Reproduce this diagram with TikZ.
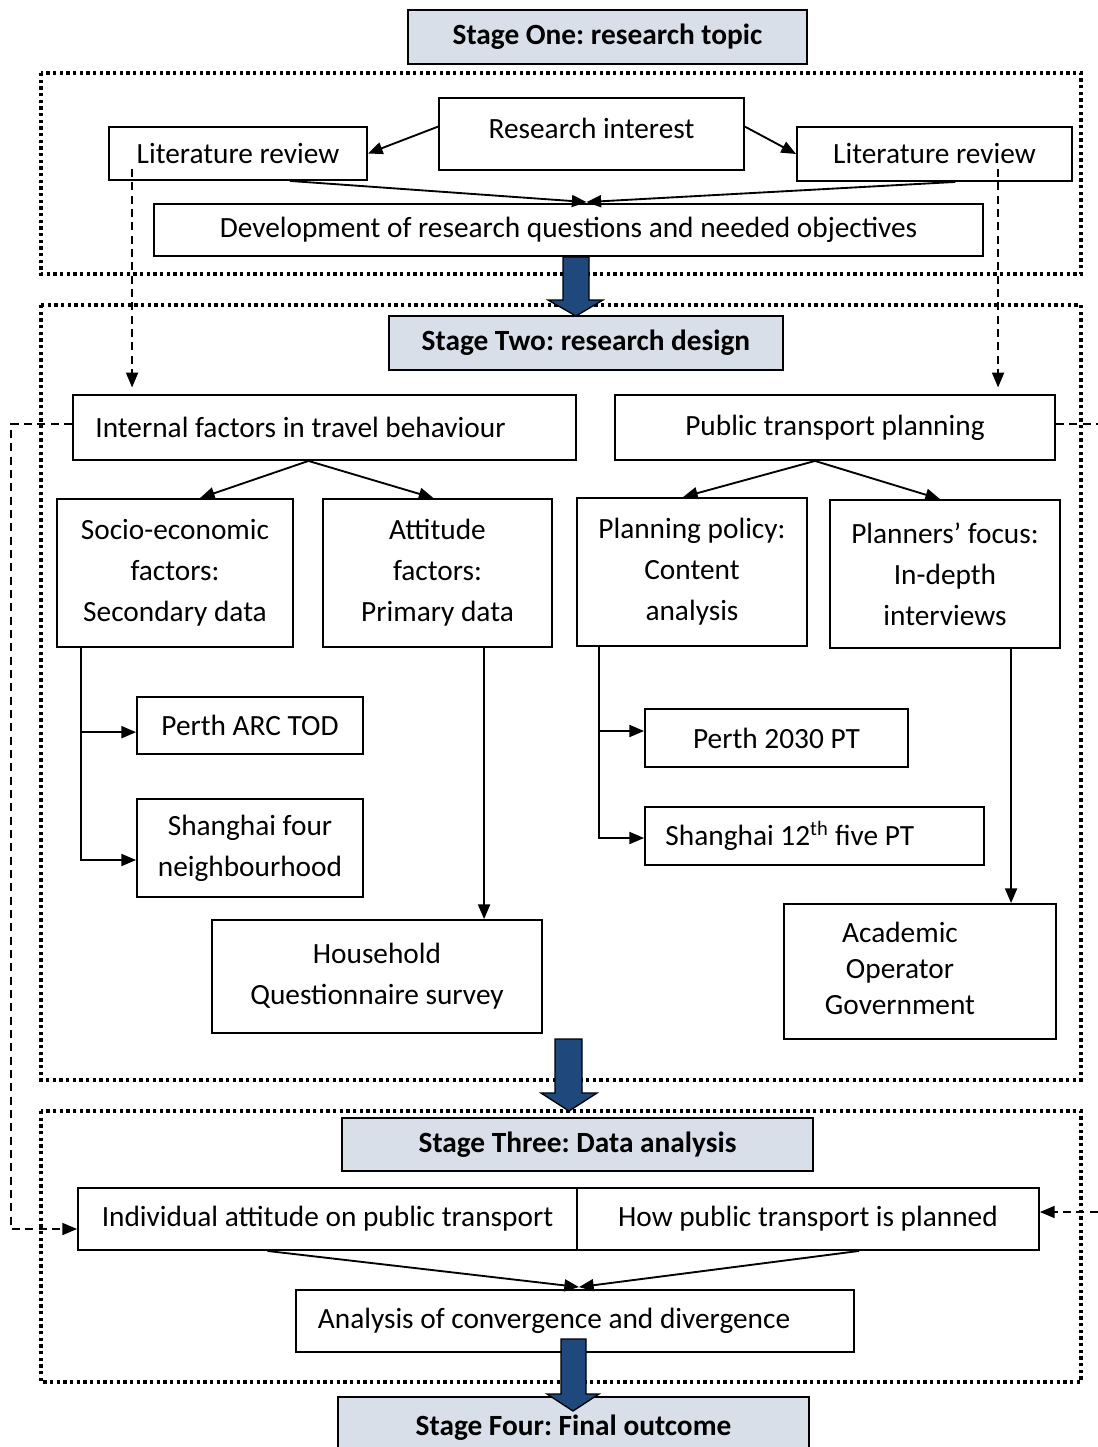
\documentclass[tikz,border=0pt]{standalone}
\usepackage{fontspec}
\setmainfont{Carlito}
\frenchspacing
\usetikzlibrary{arrows.meta,calc}
\definecolor{stagefill}{RGB}{216,223,232}
\definecolor{arrowblue}{RGB}{31,73,125}
\begin{document}
\begin{tikzpicture}[x=0.75pt,y=-0.75pt,
  rect/.style n args={4}{minimum width={(#3-#1)*0.75pt}, minimum height={(#4-#2)*0.75pt}, at={({(#1+#3)/2},{(#2+#4)/2})}},
  box/.style={draw=black, line width=1.4pt, inner sep=0pt, align=center, anchor=center, font=\fontsize{22}{30.75}\selectfont},
  stagebox/.style={box, fill=stagefill, line width=1.5pt, font=\fontsize{22}{26}\selectfont\bfseries},
  frame/.style={line width=2.6pt, dash pattern=on 2.5pt off 2.5pt},
  conn/.style={line width=1.4pt, -{Triangle[length=11pt,width=9pt]}},
  dconn/.style={line width=1.1pt, dash pattern=on 6pt off 4pt, -{Triangle[length=11pt,width=9pt]}},
  bigarrow/.style={fill=arrowblue, draw=black, line width=1pt, line join=miter},
]
\useasboundingbox (0,0) rectangle (1097,1447);

% dotted frames
\draw[frame] (41,73) rectangle (1081,274);
\draw[frame] (41,305) rectangle (1081,1080);
\draw[frame] (41,1111) rectangle (1081,1382);

% stage one
\node[stagebox, rect={408}{10}{807}{64}] (s1) {Stage One: research topic};
\node[box, rect={439}{98}{744}{170}] (ri) {\raisebox{9pt}{Research interest}};
\node[box, rect={109}{127}{367}{180}] (lit1) {Literature review};
\node[box, rect={797}{127}{1072}{181}] (lit2) {Literature review};
\node[box, rect={154}{204}{983}{256}] (dev) {Development of research questions and needed objectives};

% stage two
\node[stagebox, rect={389}{316}{783}{370}] (s2) {Stage Two: research design};
\node[box, rect={73}{395}{576}{460}] (int) {Internal factors in travel behaviour\kern36pt};
\node[box, rect={615}{395}{1055}{460}] (pt) {Public transport planning};
\node[box, rect={57}{499}{293}{647}] (so) {Socio-economic\\factors:\\Secondary data};
\node[box, rect={323}{499}{552}{647}] (att) {Attitude\\factors:\\Primary data};
\node[box, rect={577}{498}{807}{646}] (pp) {Planning policy:\\Content\\analysis};
\node[box, rect={830}{500}{1060}{648}] (pf) {Planners’ focus:\\In-depth\\interviews};
\node[box, rect={137}{697}{363}{754}] (parc) {Perth ARC TOD};
\node[box, rect={137}{799}{363}{897}] (sfn) {Shanghai four\\neighbourhood};
\node[box, rect={212}{920}{542}{1033}] (hh) {Household\\Questionnaire survey};
\node[box, rect={645}{709}{908}{767}] (p30) {Perth 2030 PT};
\node[box, rect={645}{807}{984}{865}] (s12) {Shanghai 12\textsuperscript{th} five PT\kern37pt};
\node[box, rect={784}{904}{1056}{1039}, font=\fontsize{22}{27}\selectfont] (aog)
  {\begin{tabular}{@{}c@{}}Academic\\Operator\\Government\end{tabular}\kern30pt};

% stage three
\node[stagebox, rect={342}{1118}{813}{1171}] (s3) {Stage Three: Data analysis};
\node[box, rect={78}{1188}{577}{1250}] (ind) {Individual attitude on public transport};
\node[box, rect={577}{1188}{1039}{1250}] (how) {How public transport is planned};
\node[box, rect={296}{1290}{854}{1352}] (ana) {Analysis of convergence and divergence\kern31.5pt};

% stage four
\node[stagebox, rect={338}{1397}{809}{1458}] (s4) {Stage Four: Final outcome};

% connectors stage one
\draw[conn] ($(ri.north west)!0.4!(ri.south west)$) -- (lit1.east);
\draw[conn] ($(ri.north east)!0.4!(ri.south east)$) -- (lit2.west);
\coordinate (c1) at ($(dev.north)+(18,-1)$);
\draw[conn] ($(lit1.south west)!0.7!(lit1.south east)$) -- (c1);
\draw[conn] ($(lit2.south west)!0.575!(lit2.south east)$) -- (c1);

% dashed from literature reviews
\coordinate (d1) at ($(lit1.south west)+(24,-12)$);
\coordinate (d2) at ($(lit2.south west)+(202,-13)$);
\draw[dconn, shorten >=5pt] (d1) -- (d1 |- int.north);
\draw[dconn, shorten >=5pt] (d2) -- (d2 |- pt.north);

% tree arrows
\coordinate (t1) at ($(int.south)+(-16,0)$);
\draw[conn] (t1) -- ($(so.north)+(25,0)$);
\draw[conn] (t1) -- ($(att.north)+(-4,0)$);
\coordinate (t2) at ($(pt.south)+(-20,0)$);
\draw[conn] (t2) -- ($(pp.north)+(-9,0)$);
\draw[conn] (t2) -- ($(pf.north)+(-5,0)$);

% elbows
\coordinate (e1) at ($(so.south west)+(25,0)$);
\draw[conn] (e1) |- ([yshift=-5pt]parc.west);
\draw[conn] (e1) |- ([yshift=-9pt]sfn.west);
\coordinate (e2) at ($(pp.south west)+(23,0)$);
\draw[conn] (e2) |- ([yshift=5.25pt]p30.west);
\draw[conn] (e2) |- ([yshift=-1.5pt]s12.west);
\coordinate (e3) at ($(att.south west)+(162,0)$);
\draw[conn] (e3) -- (e3 |- hh.north);
\coordinate (e4) at ($(pf.south west)+(182,0)$);
\draw[conn] (e4) -- (e4 |- aog.north);

% dashed loops
\draw[dconn] ([yshift=2.5pt]int.west) -- ++(-61,0) |- ([yshift=-7.5pt]ind.west);
\draw[dconn] ([yshift=2.5pt]pt.east) -- ++(47,0) |- ([yshift=5.25pt]how.east);

% stage three convergence
\coordinate (c2) at ($(ana.north)+(4,-2)$);
\draw[conn] ($(ind.south west)!0.38!(ind.south east)$) -- (c2);
\draw[conn] ($(how.south west)!0.61!(how.south east)$) -- (c2);

% block arrows
\draw[bigarrow] (563,257) -- (589,257) -- (589,300) -- (603,300) -- (576,316) -- (548,300) -- (563,300) -- cycle;
\draw[bigarrow] (555,1039) -- (582,1039) -- (582,1093) -- (597,1093) -- (569,1111) -- (541,1093) -- (555,1093) -- cycle;
\draw[bigarrow] (561,1339) -- (586,1339) -- (586,1394) -- (599,1394) -- (573,1411) -- (547,1394) -- (561,1394) -- cycle;
\end{tikzpicture}
\end{document}
